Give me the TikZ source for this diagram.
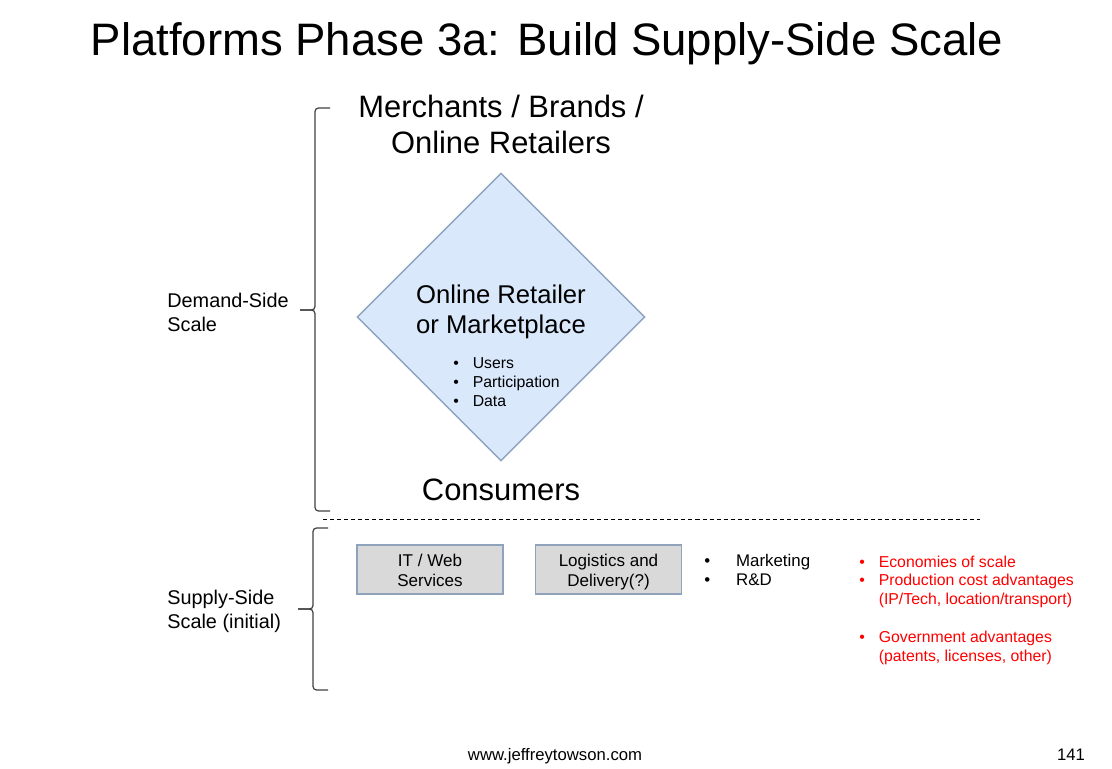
\documentclass[tikz,border=0pt]{standalone}
\usepackage{fontspec}
\setmainfont{Liberation Sans}
\usetikzlibrary{shapes.geometric}
\definecolor{dmfill}{HTML}{DAE8FC}
\definecolor{dmline}{HTML}{8FA3BD}
\definecolor{bxfill}{HTML}{D9D9D9}
\tikzset{
  ttl/.style={anchor=base, font=\fontsize{25.9}{31}\selectfont},
  hd/.style={anchor=base, font=\fontsize{17.6}{21}\selectfont},
  dm/.style={diamond, aspect=1, minimum size=5.76cm, draw=dmline, line width=0.85pt, fill=dmfill},
  dmt/.style={anchor=base, font=\fontsize{14.6}{17.3}\selectfont},
  dml/.style={anchor=base west, font=\fontsize{9}{11}\selectfont},
  lbl/.style={anchor=base west, font=\fontsize{11.3}{14.2}\selectfont},
  bx/.style={rectangle, minimum width=2.92cm, minimum height=0.98cm, draw=dmline, line width=0.85pt, fill=bxfill},
  bxt/.style={text centered, font=\fontsize{9.7}{11.3}\selectfont},
  bl/.style={anchor=base west, font=\fontsize{9.6}{11.3}\selectfont},
  rl/.style={anchor=base west, text=red, font=\fontsize{9}{10.8}\selectfont},
  ft/.style={anchor=base, font=\fontsize{9.5}{11}\selectfont},
  brc/.style={draw=black!75, line width=0.7pt, rounded corners=2pt},
}

\begin{document}
\begin{tikzpicture}[x=0.02cm, y=-0.02cm, inner sep=0pt]
	\useasboundingbox (0,0) rectangle (1112,768);
	\node[ttl] (title) at (547,55) {Platforms Phase 3a: Build Supply-Side Scale};
	%
	\node[dm] (market) at (501,317) {};
	\node[hd] (merchants) at (501,117) {\begin{tabular}[t]{@{}c@{}}Merchants / Brands /\\Online Retailers\end{tabular}};
	\node[hd] (consumers) at (501,500) {Consumers};
	\node[dmt] (markettext) at (501,303) {\begin{tabular}[t]{@{}c@{}}Online Retailer\\or Marketplace\end{tabular}};
	\node[dml] (marketlist) at (453,368) {\begin{tabular}[t]{@{}l@{\hspace{7.9pt}}l@{}}\textbullet & Users\\\textbullet & Participation\\\textbullet & Data\end{tabular}};
	%
	\node[lbl] (demand) at (167,307) {\begin{tabular}[t]{@{}l@{}}Demand-Side\\Scale\end{tabular}};
	\node[lbl] (supply) at (167,604) {\begin{tabular}[t]{@{}l@{}}Supply-Side\\Scale (initial)\end{tabular}};
	%
	\draw[brc] (330,108) -- (315,108) -- (315,310) -- (300,310);
	\draw[brc] (330,511) -- (315,511) -- (315,310) -- (300,310);
	\draw[brc] (328,528) -- (313,528) -- (313,609) -- (298,609);
	\draw[brc] (328,690) -- (313,690) -- (313,609) -- (298,609);
	\draw[line width=0.5pt, dash pattern=on 2.3pt off 1.7pt] (323,519) -- (980,519);
	%
	\node[bx] (web) at (430,569.5) {};
	\node[bxt] (webtext) at ([yshift=-1.7pt]web.center) {\begin{tabular}{@{}c@{}}IT / Web\\Services\end{tabular}};
	\node[bx] (logistics) at (608.5,569.5) {};
	\node[bxt] (logisticstext) at ([yshift=-1.7pt]logistics.center) {\begin{tabular}{@{}c@{}}Logistics and\\Delivery(?)\end{tabular}};
	\node[bl] (otherlist) at (704,566) {\begin{tabular}[t]{@{}l@{\hspace{14.7pt}}l@{}}\textbullet & Marketing\\\textbullet & R\&D\end{tabular}};
	\node[rl] (advlist) at (859,567) {\begin{tabular}[t]{@{}l@{\hspace{7.9pt}}l@{}}\textbullet & Economies of scale\\\textbullet & Production cost advantages\\ & (IP/Tech, location/transport)\\ & \\\textbullet & Government advantages\\ & (patents, licenses, other)\end{tabular}};
	%
	\node[ft] (site) at (555,760) {www.jeffreytowson.com};
	\node[ft] (page) at (1071,760) {141};
\end{tikzpicture}
\end{document}
